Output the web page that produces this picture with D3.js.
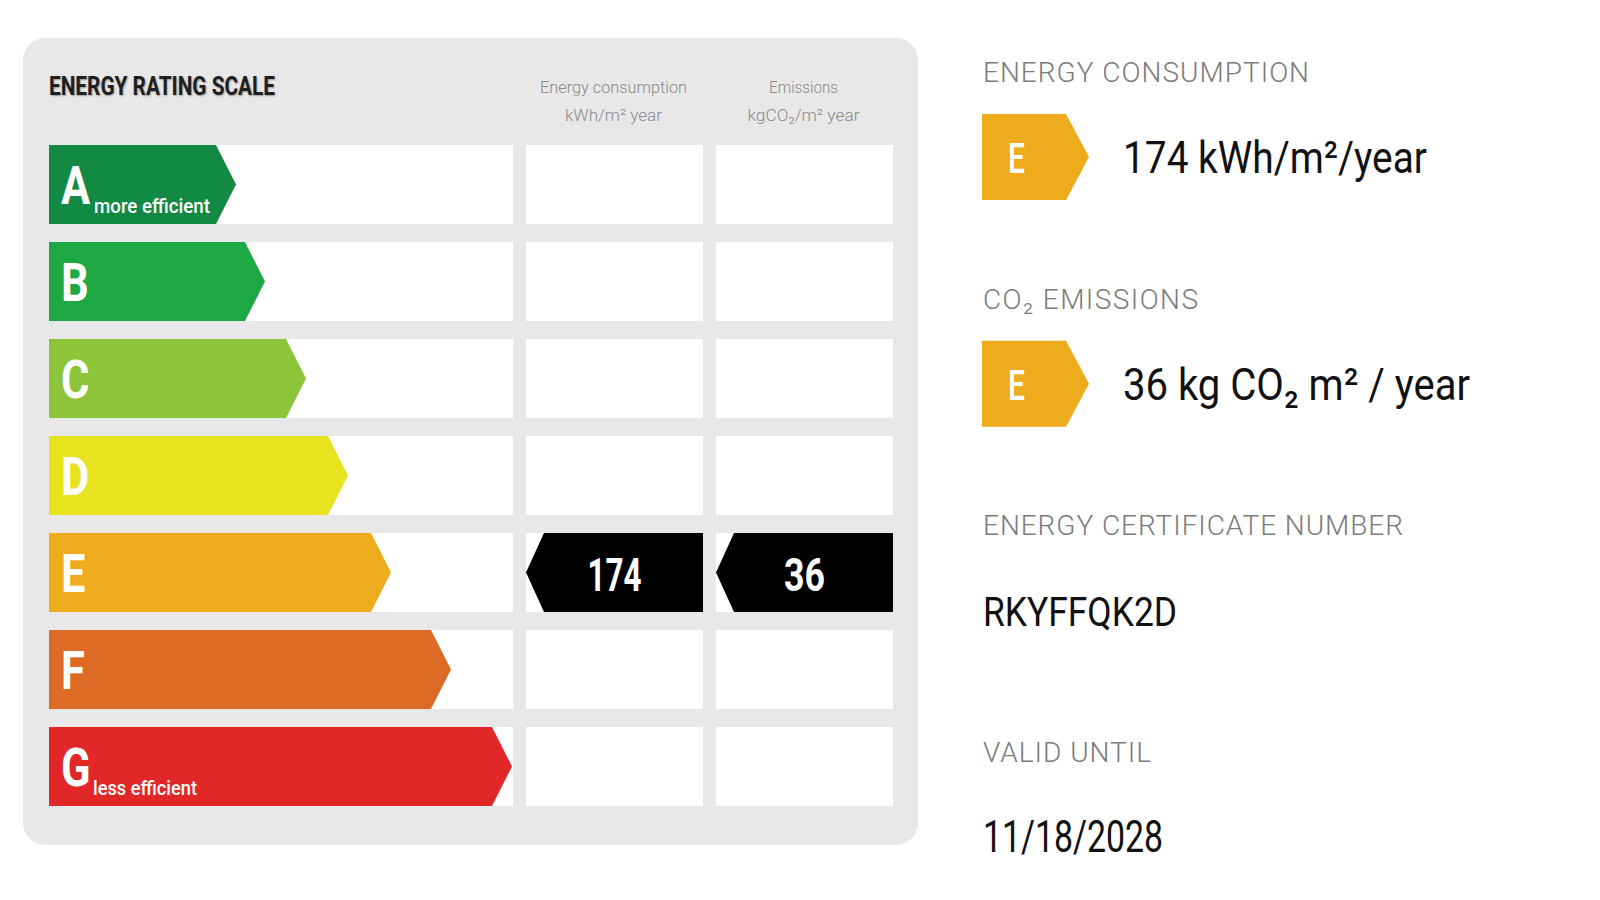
<!DOCTYPE html>
<html>
<head>
<meta charset="utf-8">
<script src="https://cdn.jsdelivr.net/npm/d3@7"></script>
<style>
  body { margin: 0; background: #ffffff; }
  svg { display: block; font-family: Roboto, "Open Sans", sans-serif; }
</style>
</head>
<body>
<div id="chart"></div>
<script>
// energy rating scale data
const ratings = ["A", "B", "C", "D", "E", "F", "G"];
const ratingNotes = ["more efficient", "", "", "", "", "", "less efficient"];
const columnTitles = ["Energy consumption", "Emissions"];
const columnUnits = ["kWh/m² year", "kgCO₂/m² year"];
const currentRating = ["E", "E"];          // consumption, emissions
const currentValues = [174, 36];
const detailLabels = ["ENERGY CONSUMPTION", "CO₂ EMISSIONS", "ENERGY CERTIFICATE NUMBER", "VALID UNTIL"];
const detailValues = ["174 kWh/m²/year", "36 kg CO₂ m² / year", "RKYFFQK2D", "11/18/2028"];

const width = 1600, height = 900;

const svg = d3.select("#chart").append("svg")
    .attr("width", width)
    .attr("height", height);

// colours of the bands
const color = d3.scaleOrdinal()
    .domain(ratings)
    .range(["#138a43", "#1da844", "#8cc43a", "#e7e31f", "#eeab1e", "#de6b25", "#e12727"]);

// row layout
const y = d3.scaleBand()
    .domain(ratings)
    .range([145, 806])
    .paddingInner(18 / 97)
    .paddingOuter(0);

// tip of each band arrow
const tipX = d3.scaleOrdinal()
    .domain(ratings)
    .range([236, 265, 306, 348, 391, 451, 512]);

// value columns
const col = d3.scaleBand()
    .domain([0, 1])
    .range([526, 893])
    .paddingInner(13 / 190);

const rowLeft = 49, rowRight = 513, tipLen = 20;

// panel
svg.append("rect")
    .attr("x", 23).attr("y", 38)
    .attr("width", 895).attr("height", 807)
    .attr("rx", 22)
    .attr("fill", "#e8e8e8");

svg.append("text")
    .attr("x", 49).attr("y", 95)
    .attr("textLength", 226)
    .attr("lengthAdjust", "spacingAndGlyphs")
    .style("font-size", "25px")
    .style("font-weight", 700)
    .style("fill", "#1f1f1f")
    .style("text-shadow", "1px 1px 2px rgba(0,0,0,0.35)")
    .text("ENERGY RATING SCALE");

// column headers
const headers = svg.selectAll(".col-head")
    .data(columnTitles)
    .enter().append("g")
    .attr("class", "col-head")
    .attr("transform", (d, i) => "translate(" + (col(i) + col.bandwidth() / 2 - 1) + ",0)");

headers.append("text")
    .attr("y", 93)
    .attr("text-anchor", "middle")
    .attr("textLength", (d, i) => [147, 69][i])
    .attr("lengthAdjust", "spacingAndGlyphs")
    .style("font-size", "17px")
    .style("font-weight", 300)
    .style("fill", "#8a8a8a")
    .text(d => d);

headers.append("text")
    .attr("y", 121)
    .attr("text-anchor", "middle")
    .attr("textLength", (d, i) => [97, 112][i])
    .attr("lengthAdjust", "spacingAndGlyphs")
    .style("font-size", "17px")
    .style("font-weight", 300)
    .style("fill", "#8a8a8a")
    .text((d, i) => columnUnits[i]);

// rows
const rows = svg.selectAll(".row")
    .data(ratings)
    .enter().append("g")
    .attr("class", "row")
    .attr("transform", d => "translate(0," + y(d) + ")");

const h = y.bandwidth();

rows.append("rect")
    .attr("x", rowLeft).attr("width", rowRight - rowLeft)
    .attr("height", h)
    .attr("fill", "#ffffff");

[0, 1].forEach(c => {
    rows.append("rect")
        .attr("x", col(c)).attr("width", col.bandwidth())
        .attr("height", h)
        .attr("fill", "#ffffff");
});

rows.append("path")
    .attr("d", d => {
        let t = tipX(d);
        return "M" + rowLeft + ",0H" + (t - tipLen) + "L" + t + "," + (h / 2) +
            "L" + (t - tipLen) + "," + h + "H" + rowLeft + "Z";
    })
    .attr("fill", d => color(d));

rows.append("text")
    .attr("transform", "translate(61,59) scale(0.82,1)")
    .style("font-size", "53px")
    .style("font-weight", 700)
    .style("fill", "#ffffff")
    .text(d => d);

rows.filter((d, i) => ratingNotes[i] !== "")
    .append("text")
    .attr("x", (d, i) => d === "A" ? 94 : 93)
    .attr("y", 68)
    .attr("textLength", d => d === "A" ? 116 : 104)
    .attr("lengthAdjust", "spacingAndGlyphs")
    .style("font-size", "20px")
    .style("font-weight", 500)
    .style("fill", "#ffffff")
    .text(d => ratingNotes[ratings.indexOf(d)]);

// current value markers
currentValues.forEach((v, c) => {
    let g = svg.append("g")
        .attr("transform", "translate(" + col(c) + "," + y(currentRating[c]) + ")");
    let w = col.bandwidth();
    g.append("path")
        .attr("d", "M0," + (h / 2) + "L18,0H" + w + "V" + h + "H18Z")
        .attr("fill", "#000000");
    g.append("text")
        .attr("x", w / 2).attr("y", 58)
        .attr("text-anchor", "middle")
        .attr("textLength", [54, 41][c])
        .attr("lengthAdjust", "spacingAndGlyphs")
        .style("font-size", "47px")
        .style("font-weight", 700)
        .style("fill", "#ffffff")
        .text(v);
});

// details on the right
const detailY = d3.scalePoint()
    .domain(d3.range(detailLabels.length))
    .range([82, 762]);

const details = svg.selectAll(".detail")
    .data(detailLabels)
    .enter().append("g")
    .attr("class", "detail")
    .attr("transform", (d, i) => "translate(983," + detailY(i) + ")");

details.append("text")
    .attr("textLength", (d, i) => [326, 215, 420, 168][i])
    .attr("lengthAdjust", "spacing")
    .style("font-size", "28px")
    .style("font-weight", 300)
    .style("fill", "#7b7b7b")
    .text(d => d);

// rating badges for the first two details
details.filter((d, i) => i < 2).each(function (d, i) {
    let g = d3.select(this);
    g.append("path")
        .attr("d", "M-1,32H83L106,75L83,118H-1Z")
        .attr("fill", color(currentRating[i]));
    g.append("text")
        .attr("x", 25).attr("y", 91)
        .attr("textLength", 17)
        .attr("lengthAdjust", "spacingAndGlyphs")
        .style("font-size", "42px")
        .style("font-weight", 500)
        .style("fill", "#ffffff")
        .text(currentRating[i]);
});

details.append("text")
    .attr("x", (d, i) => i < 2 ? 140 : 0)
    .attr("y", (d, i) => [91, 91, 91, 90][i])
    .attr("textLength", (d, i) => [304, 347, 194, 180][i])
    .attr("lengthAdjust", "spacingAndGlyphs")
    .style("font-size", (d, i) => i === 2 ? "41px" : "45px")
    .style("font-weight", 400)
    .style("fill", "#111111")
    .text((d, i) => detailValues[i]);
</script>
</body>
</html>
